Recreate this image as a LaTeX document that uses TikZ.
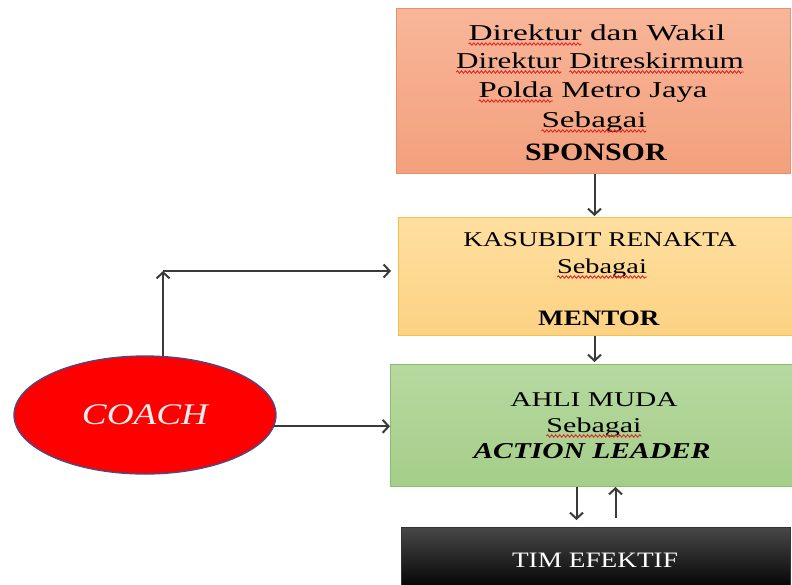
\documentclass[tikz,border=0pt]{standalone}
\usepackage{fontspec}
\usepackage{graphicx}
\setmainfont{Liberation Serif}
\usetikzlibrary{arrows.meta,shapes.geometric,decorations.pathmorphing}
\newcommand\sx[3]{\scalebox{#1}[1]{\fontsize{#2}{#2}\selectfont #3}}
\definecolor{spTop}{HTML}{F8B699}
\definecolor{spBot}{HTML}{F3A07D}
\definecolor{spLine}{HTML}{E8906A}
\definecolor{meTop}{HTML}{FFDFA0}
\definecolor{meBot}{HTML}{FCD283}
\definecolor{meLine}{HTML}{F2C14E}
\definecolor{grTop}{HTML}{B6D9A0}
\definecolor{grBot}{HTML}{A5CE89}
\definecolor{grLine}{HTML}{8DBB70}
\definecolor{arrowgray}{HTML}{3A3A3A}
\definecolor{coachLine}{HTML}{3F4F8F}
\definecolor{coachText}{HTML}{FBEDED}
\definecolor{squig}{HTML}{E02828}
\tikzset{
  box/.style={rectangle, anchor=north west, inner sep=0pt},
  txt/.style={anchor=base, inner sep=0pt, outer sep=0pt, text=black},
  wavy/.style={draw=squig, line width=0.9pt, decorate, decoration={snake, amplitude=1.2pt, segment length=4pt}},
  conn/.style={draw=arrowgray, line width=2pt, -{Straight Barb[length=6pt,width=13pt]}},
}
\newcommand\wavebelow[1]{\draw[wavy] ([yshift=-4pt]#1.base west) -- ([yshift=-4pt]#1.base east);}
\begin{document}
\begin{tikzpicture}[x=1pt,y=-1pt]
\useasboundingbox (0,0) rectangle (792,584);
% boxes
\node[box, minimum width=394pt, minimum height=165pt, top color=spTop, bottom color=spBot, draw=spLine, line width=1pt] (sponsor) at (396,8) {};
\node[box, minimum width=394pt, minimum height=118pt, top color=meTop, bottom color=meBot, draw=meLine, line width=1pt] (mentor) at (398,217) {};
\node[box, minimum width=402pt, minimum height=122pt, top color=grTop, bottom color=grBot, draw=grLine, line width=1pt] (leader) at (390,364) {};
\node[box, minimum width=389pt, minimum height=64pt, top color=black!72, middle color=black, bottom color=black, draw=black!80, line width=0.8pt] (tim) at (401,527) {};
% sponsor text
\node[txt] (s1) at (597,40) {\sx{1.47}{22.7}{Direktur dan Wakil}};
\node[txt, anchor=base west] (s1a) at (s1.base west) {\sx{1.47}{22.7}{\phantom{Direktur}}};
\node[txt] (s2) at (600,68) {\sx{1.37}{22.7}{Direktur Ditreskirmum}};
\node[txt, anchor=base west] (s2a) at (s2.base west) {\sx{1.37}{22.7}{\phantom{Direktur}}};
\node[txt, anchor=base east] (s2b) at (s2.base east) {\sx{1.37}{22.7}{\phantom{Ditreskirmum}}};
\node[txt] (s3) at (593,97) {\sx{1.44}{22.7}{Polda Metro Jaya}};
\node[txt, anchor=base west] (s3a) at (s3.base west) {\sx{1.44}{22.7}{\phantom{Polda}}};
\node[txt] (s4) at (594,127) {\sx{1.46}{22.7}{Sebagai}};
\node[txt] (s5) at (596,160) {\sx{1.2}{25}{\textbf{SPONSOR}}};
\wavebelow{s1a}
\wavebelow{s2a}
\wavebelow{s2b}
\wavebelow{s3a}
\wavebelow{s4}
% mentor text
\node[txt] (m1) at (600,246) {\sx{1.30}{21}{KASUBDIT RENAKTA}};
\node[txt] (m2) at (602,273) {\sx{1.35}{21}{Sebagai}};
\node[txt] (m3) at (599,325) {\sx{1.23}{22}{\textbf{MENTOR}}};
\wavebelow{m2}
% leader text
\node[txt] (g1) at (594,406) {\sx{1.40}{21}{AHLI MUDA}};
\node[txt] (g2) at (594,432) {\sx{1.43}{21}{Sebagai}};
\node[txt] (g3) at (592,458) {\sx{1.30}{22.7}{\textbf{\textit{ACTION LEADER}}}};
\wavebelow{g2}
% tim text
\node[txt, text=white] (t1) at (595,567) {\sx{1.24}{22}{TIM EFEKTIF}};
% coach ellipse
\node[ellipse, minimum width=262pt, minimum height=118pt, fill=red, draw=coachLine, line width=1.3pt, inner sep=0pt,
  text=coachText] (coach) at (145,415) {\sx{1.24}{30}{\itshape COACH}};
% connectors
\draw[conn] ([xshift=1pt]sponsor.south) -- ([xshift=1pt,yshift=1pt]sponsor.south |- mentor.north);
\draw[conn] ([xshift=-1pt]mentor.south) -- ([xshift=-1pt,yshift=2pt]mentor.south |- leader.north);
\draw[conn] ([xshift=-15pt]leader.south) -- ([xshift=-15pt,yshift=7pt]leader.south |- tim.north);
\draw[conn] ([xshift=24pt,yshift=9pt]leader.south |- tim.north) -- ([xshift=24pt]leader.south);
\coordinate (corner) at (coach.73 |- 0,271);
\draw[conn] (coach.73) -- (corner);
\draw[conn] (corner) -- ([xshift=-7pt]corner -| mentor.west);
\draw[conn] (coach.-5) -- (coach.-5 -| leader.west);
\end{tikzpicture}
\end{document}
